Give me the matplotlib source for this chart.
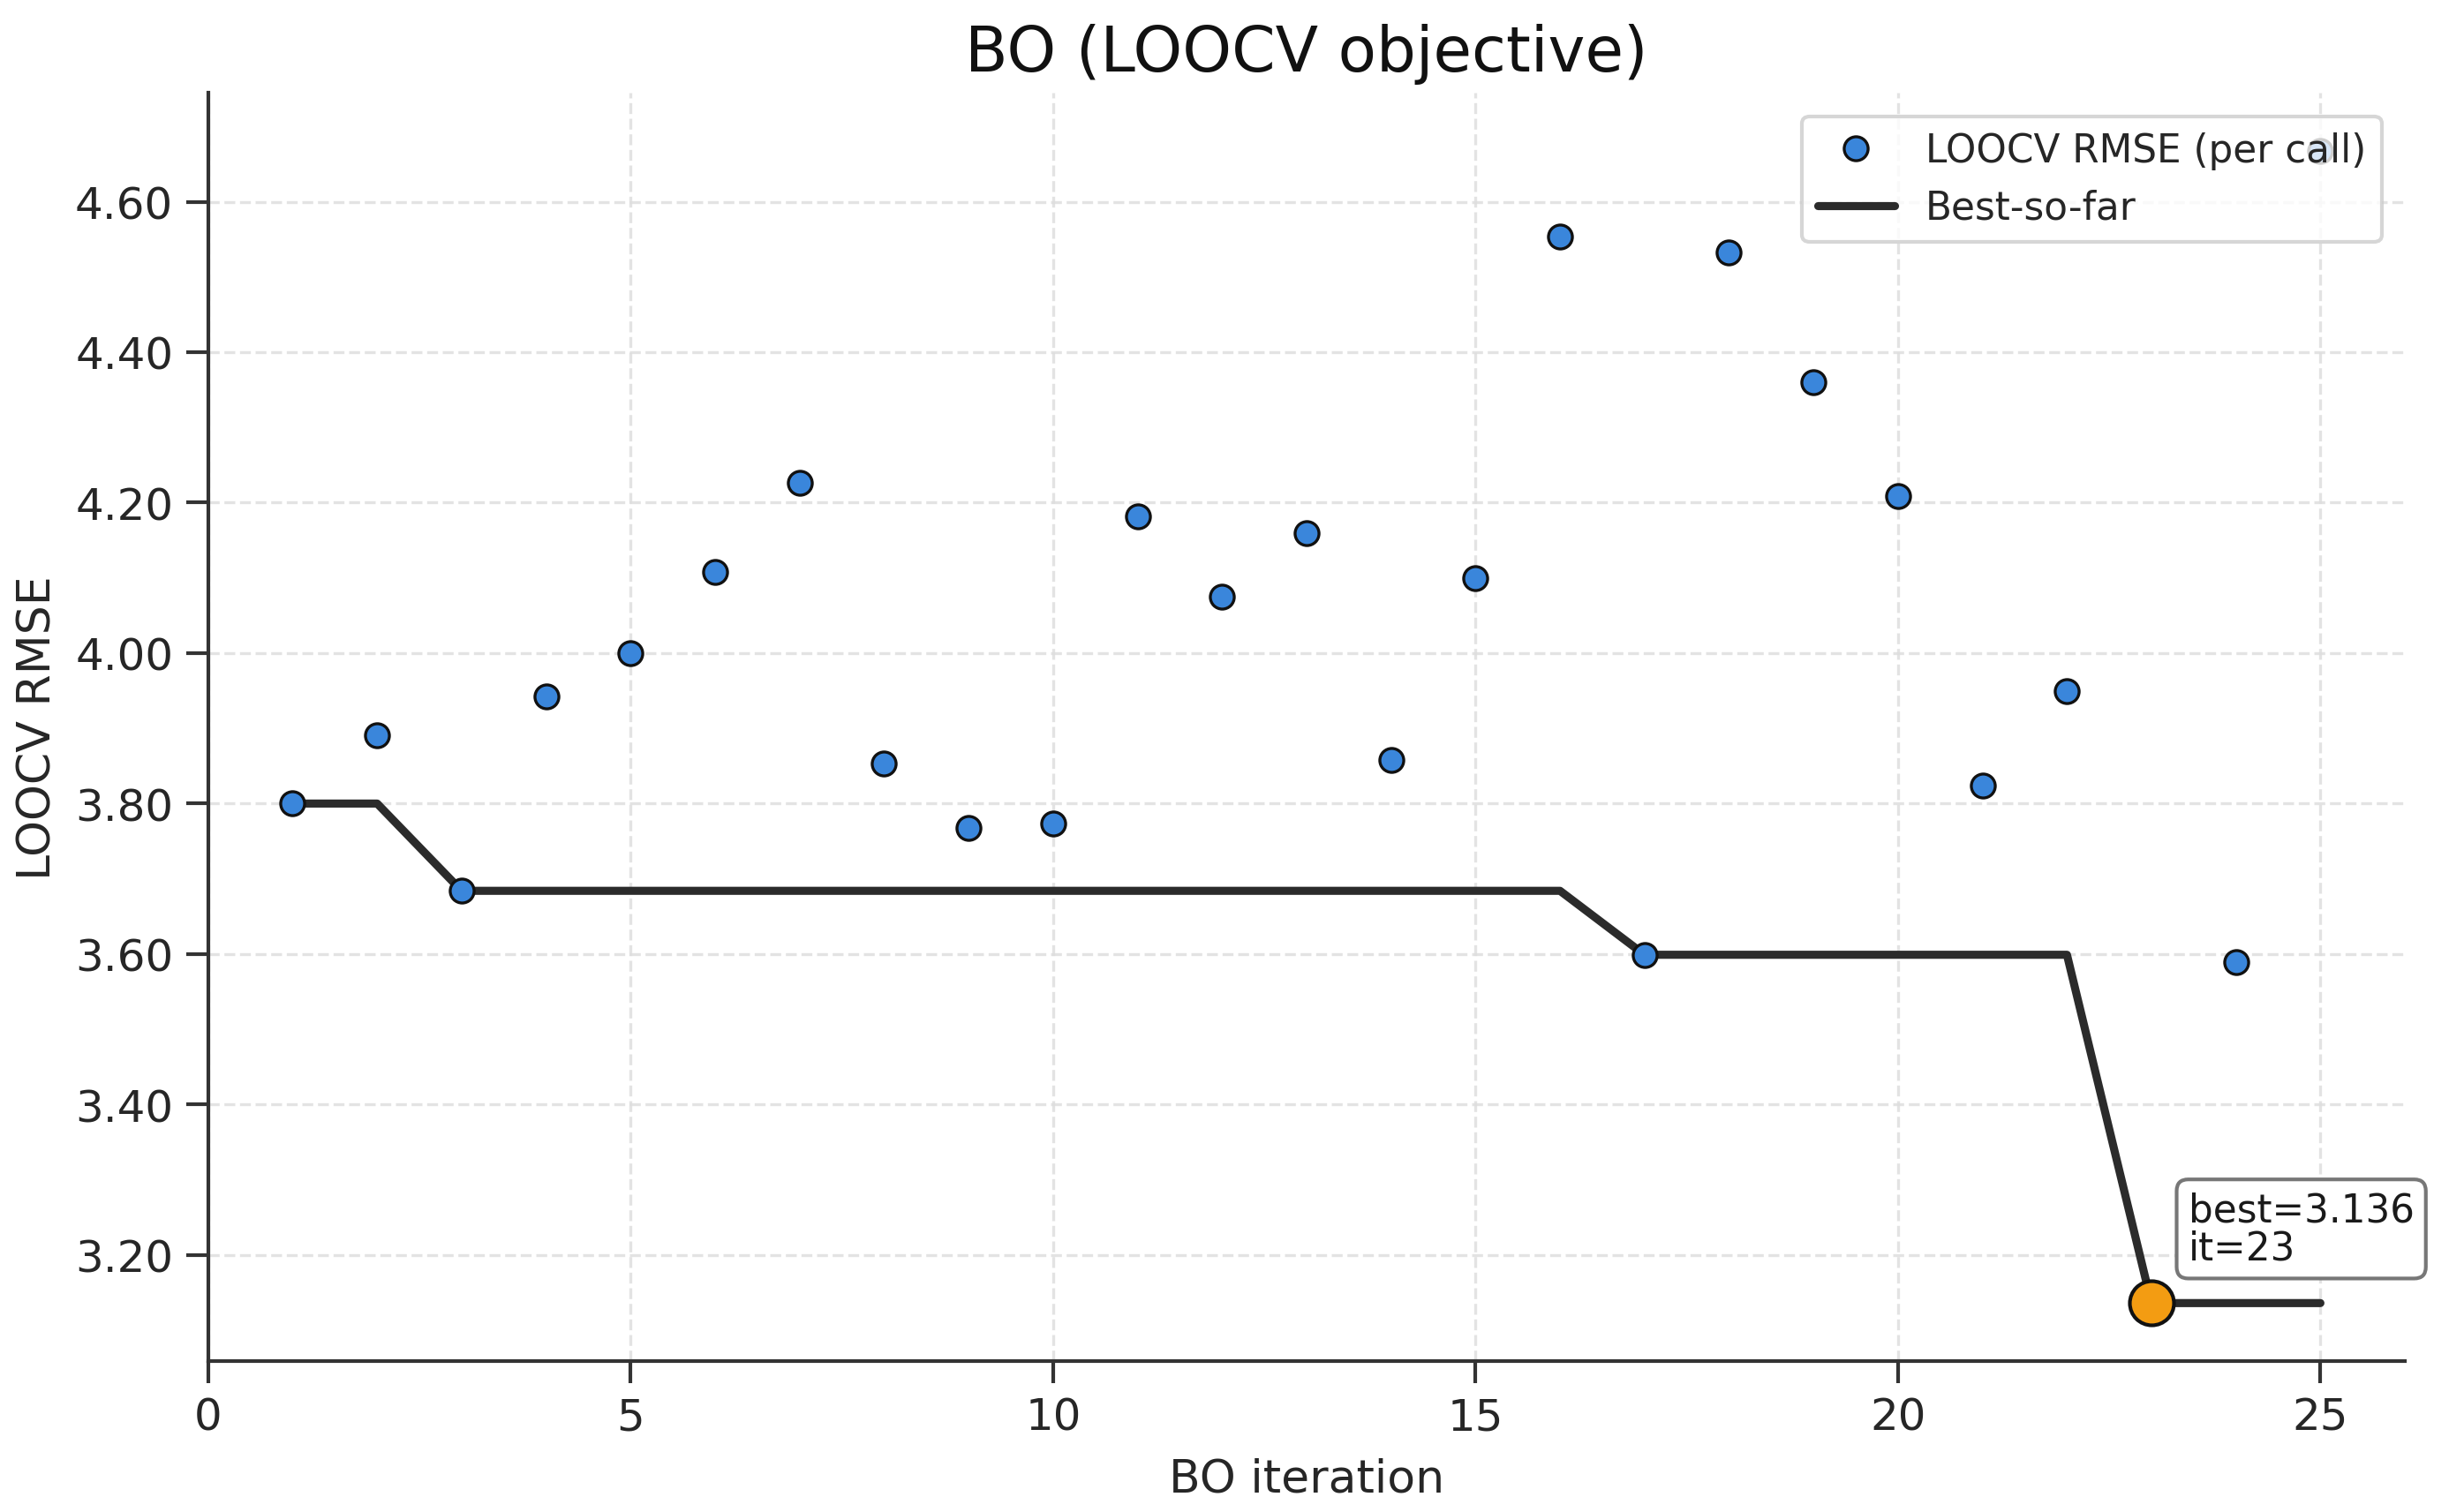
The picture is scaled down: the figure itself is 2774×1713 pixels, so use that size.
import numpy as np
import matplotlib
matplotlib.use("Agg")
import matplotlib.pyplot as plt
import seaborn as sns
from matplotlib.ticker import FormatStrFormatter

# LOOCV RMSE per BO call
iterations = np.arange(1, 26)
rmse = np.array([3.800, 3.891, 3.684, 3.942, 4.000, 4.108, 4.226, 3.853, 3.767, 3.773,
                 4.182, 4.075, 4.160, 3.858, 4.100, 4.554, 3.599, 4.532, 4.360, 4.209,
                 3.824, 3.949, 3.136, 3.589, 4.668])

best_so_far = np.minimum.accumulate(rmse)
best_idx = int(np.argmin(rmse))
best_it = iterations[best_idx]
best_val = rmse[best_idx]

sns.set_style("ticks")
plt.rcParams['font.family'] = ['DejaVu Sans']

fig, ax = plt.subplots(figsize=(2774 / 300, 1714 / 300), dpi=300)
fig.subplots_adjust(left=0.085, right=0.982, bottom=0.100, top=0.938)

ax.plot(iterations, rmse, 'o', color='#3a86db', markeredgecolor='#111111',
        markeredgewidth=0.8, markersize=6.5, label='LOOCV RMSE (per call)', zorder=3)
ax.plot(iterations, best_so_far, '-', color='#2b2b2b', linewidth=2.2,
        label='Best-so-far', zorder=2)
ax.plot([best_it], [best_val], 'o', color='#f39c12', markeredgecolor='#111111',
        markeredgewidth=1.0, markersize=12, zorder=4)

ax.annotate(f'best={best_val:.3f}\nit={best_it}', xy=(best_it, best_val),
            xytext=(10, 12), textcoords='offset points', fontsize=10.5,
            color='#1a1a1a', linespacing=1.0, annotation_clip=False,
            bbox=dict(boxstyle='round,pad=0.3', fc='white', ec='#777777', lw=1.0))

r = rmse.max() - rmse.min()
ax.set_ylim(rmse.min() - 0.05 * r, rmse.max() + 0.05 * r)
ax.set_xlim(0, 26)
ax.set_xticks([0, 5, 10, 15, 20, 25])
ax.yaxis.set_major_formatter(FormatStrFormatter('%.2f'))

ax.grid(True, linestyle='--', color='#dddddd', linewidth=0.8, alpha=0.8)
ax.set_axisbelow(True)
sns.despine(ax=ax)
for s in ['left', 'bottom']:
    ax.spines[s].set_color('#333333')
    ax.spines[s].set_linewidth(1.0)
ax.tick_params(axis='both', length=6, width=1.0, color='#333333',
               labelsize=12, labelcolor='#262626')

ax.set_xlabel('BO iteration', fontsize=12.5, color='#262626', labelpad=5)
ax.set_ylabel('LOOCV RMSE', fontsize=12.5, color='#262626')
ax.set_title('BO (LOOCV objective)', fontsize=17, color='#111111', pad=6)

ax.legend(loc='upper right', fontsize=10.5, frameon=True, fancybox=True,
          edgecolor='#cccccc', borderaxespad=0.6)

fig.savefig('out.png', dpi=300)
